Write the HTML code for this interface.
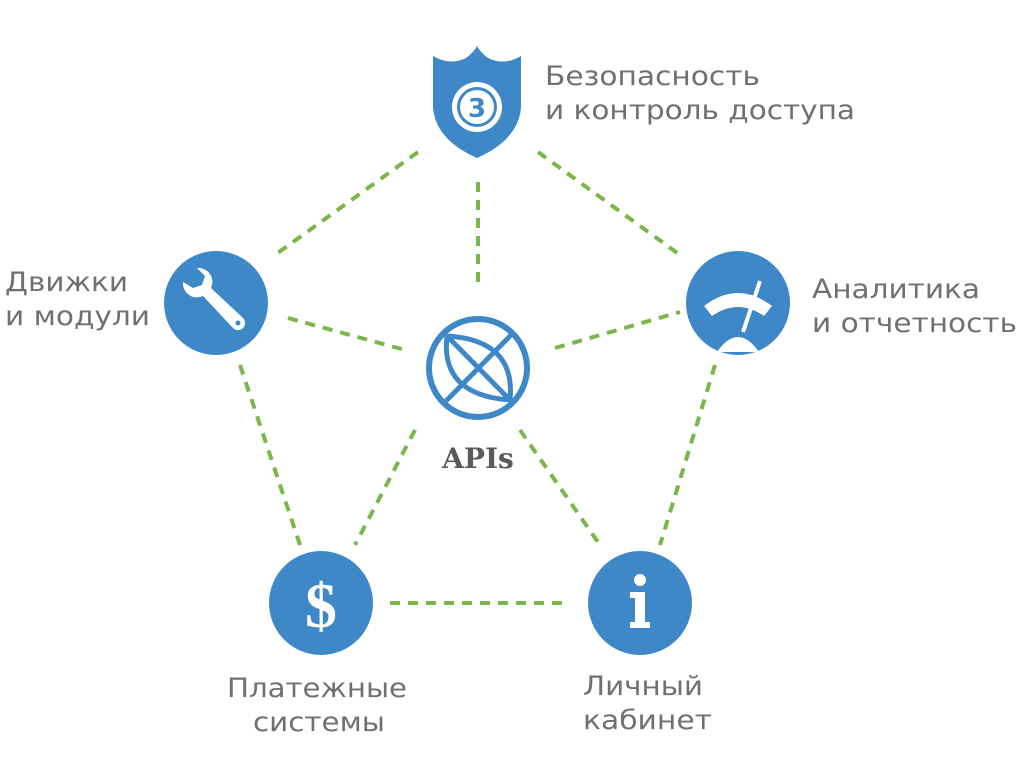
<!DOCTYPE html>
<html><head><meta charset="utf-8"><style>
body{margin:0;background:#fff;width:1024px;height:768px;overflow:hidden}
svg text{font-family:"DejaVu Sans","Liberation Sans",sans-serif;fill:#707070;font-size:27px}
</style></head><body>
<svg width="1024" height="768" viewBox="0 0 1024 768">
<g stroke="#7ab648" stroke-width="4" stroke-dasharray="10,8" fill="none">
<line x1="418" y1="152" x2="275" y2="255"/>
<line x1="538" y1="152" x2="680" y2="255"/>
<line x1="478" y1="182" x2="478" y2="285"/>
<line x1="288" y1="318" x2="405" y2="350"/>
<line x1="555" y1="348" x2="680" y2="312"/>
<line x1="240" y1="365" x2="300" y2="545"/>
<line x1="715" y1="365" x2="660" y2="545"/>
<line x1="415" y1="430" x2="355" y2="545"/>
<line x1="520" y1="430" x2="600" y2="545"/>
<line x1="390" y1="603" x2="568" y2="603"/>
</g>
<path d="M433,56 Q450,66 466,58 Q474,52 477,46 Q480,52 488,58 Q504,66 521,56 L521,108 Q518,140 477,158 Q436,140 433,108 Z" fill="#3f88c8"/>
<circle cx="477" cy="107" r="25" fill="#fff"/>
<circle cx="477" cy="107" r="20" fill="#3f88c8"/>
<circle cx="477" cy="107" r="17" fill="#fff"/>
<text x="477" y="117" text-anchor="middle" style="font-weight:bold;font-size:26px;fill:#3f88c8">3</text>
<circle cx="216" cy="303" r="52" fill="#3f88c8"/>
<path d="M183,282 a14,14 0 0 0 20,14 l30,32 a6,6 0 0 0 10,-10 l-32,-30 a14,14 0 0 0 -14,-20 l8,8 -3,9 -9,3 z" fill="#fff"/>
<circle cx="238" cy="323" r="2.5" fill="#3f88c8"/>
<circle cx="738" cy="303" r="52" fill="#3f88c8"/>
<path d="M704,306 Q738,280 772,306 L764,316 Q738,298 712,316 Z" fill="#fff"/>
<line x1="760" y1="281" x2="743" y2="332" stroke="#fff" stroke-width="4"/>
<path d="M717,352 Q738,322 759,352 Z" fill="#fff"/>
<circle cx="478" cy="368" r="49" fill="none" stroke="#3f88c8" stroke-width="6"/>
<g fill="none" stroke="#3f88c8" stroke-width="5">
<line x1="446" y1="335" x2="511" y2="401"/>
<line x1="511" y1="335" x2="446" y2="401"/>
<path d="M447,336 Q440,395 510,400"/>
<path d="M447,336 Q516,340 510,400"/>
</g>
<text x="478" y="468" text-anchor="middle" style="font-family:'DejaVu Serif','Liberation Serif',serif;font-weight:bold;font-size:28px;fill:#5a5a5a">APIs</text>
<circle cx="321" cy="603" r="52" fill="#3f88c8"/>
<text x="321" y="627" text-anchor="middle" style="font-family:'Liberation Serif',serif;font-weight:bold;font-size:64px;fill:#fff">$</text>
<circle cx="640" cy="603" r="52" fill="#3f88c8"/>
<circle cx="640" cy="580" r="6" fill="#fff"/>
<path d="M630,592 h15 v30 h5 v6 h-20 v-6 h5 v-24 h-5 z" fill="#fff"/>
<text x="545" y="85" textLength="215" lengthAdjust="spacingAndGlyphs">Безопасность</text>
<text x="545" y="119" textLength="310" lengthAdjust="spacingAndGlyphs">и контроль доступа</text>
<text x="5" y="291" textLength="123" lengthAdjust="spacingAndGlyphs">Движки</text>
<text x="5" y="325" textLength="145" lengthAdjust="spacingAndGlyphs">и модули</text>
<text x="812" y="298" textLength="168" lengthAdjust="spacingAndGlyphs">Аналитика</text>
<text x="812" y="332" textLength="205" lengthAdjust="spacingAndGlyphs">и отчетность</text>
<text x="227" y="697" textLength="180" lengthAdjust="spacingAndGlyphs">Платежные</text>
<text x="253" y="731" textLength="132" lengthAdjust="spacingAndGlyphs">системы</text>
<text x="583" y="695" textLength="120" lengthAdjust="spacingAndGlyphs">Личный</text>
<text x="583" y="729" textLength="129" lengthAdjust="spacingAndGlyphs">кабинет</text>
</svg>
</body></html>
